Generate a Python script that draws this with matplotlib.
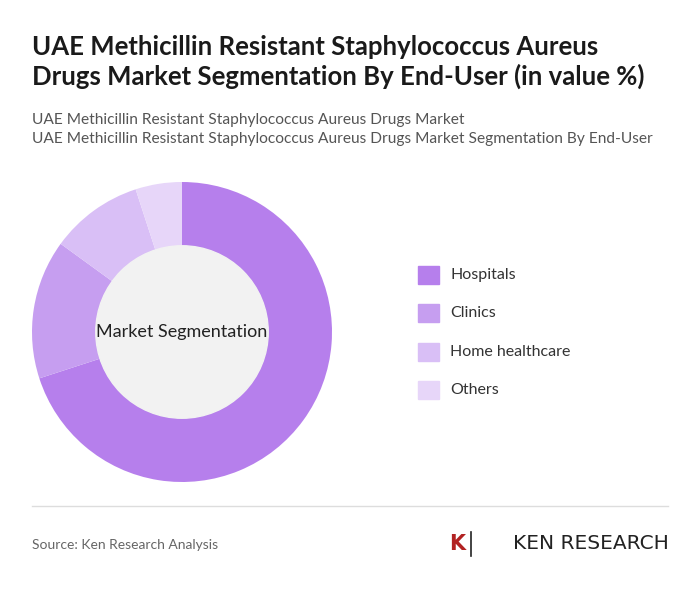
import matplotlib.pyplot as plt
from matplotlib.patches import Rectangle

labels = ['Hospitals', 'Clinics', 'Home healthcare', 'Others']
values = [70, 15, 10, 5]
colors = ['#b67fec', '#c69ef0', '#d9bff6', '#e7d6f9']

fig = plt.figure(figsize=(7, 5.91), dpi=100)
fig.patch.set_facecolor('white')

fig.text(0.046, 0.94, 'UAE Methicillin Resistant Staphylococcus Aureus\nDrugs Market Segmentation By End-User (in value %)',
         fontsize=18.5, fontweight='bold', color='#1a1a1a', va='top', linespacing=1.2,
         family='Lato')
fig.text(0.046, 0.808, 'UAE Methicillin Resistant Staphylococcus Aureus Drugs Market\nUAE Methicillin Resistant Staphylococcus Aureus Drugs Market Segmentation By End-User',
         fontsize=11.2, color='#555555', va='top', linespacing=1.4, family='Lato')

ax = fig.add_axes([32 / 700, 109 / 591, 300 / 700, 300 / 591])
ax.pie(values, colors=colors, startangle=90, counterclock=False, radius=1,
       wedgeprops=dict(width=0.43, edgecolor='none'))
ax.add_artist(plt.Circle((0, 0), 0.575, color='#f2f2f2'))
ax.text(0, 0, 'Market Segmentation', ha='center', va='center', fontsize=13, color='#222222', family='Lato')
ax.set_xlim(-1, 1)
ax.set_ylim(-1, 1)
ax.set_aspect('equal')

for i, (lab, col) in enumerate(zip(labels, colors)):
    y = 0.535 - i * 0.065
    fig.patches.append(Rectangle((0.597, y - 0.015), 0.03, 0.03, color=col, transform=fig.transFigure, figure=fig))
    fig.text(0.643, y, lab, fontsize=11.5, color='#333333', va='center', family='Lato')

fig.add_artist(plt.Line2D([0.046, 0.954], [0.143, 0.143], color='#dddddd', lw=1))
fig.text(0.046, 0.078, 'Source: Ken Research Analysis', fontsize=10, color='#666666', va='center', family='Lato')
fig.text(0.955, 0.08, 'KEN RESEARCH', fontsize=14.5, color='#222222', ha='right', va='center')
fig.text(0.653, 0.08, 'K', fontsize=15, fontweight='bold', color='#b22222', ha='center', va='center')
fig.add_artist(plt.Line2D([0.673, 0.673], [0.06, 0.10], color='#222222', lw=1.2))

fig.savefig('out.png', dpi=100)
